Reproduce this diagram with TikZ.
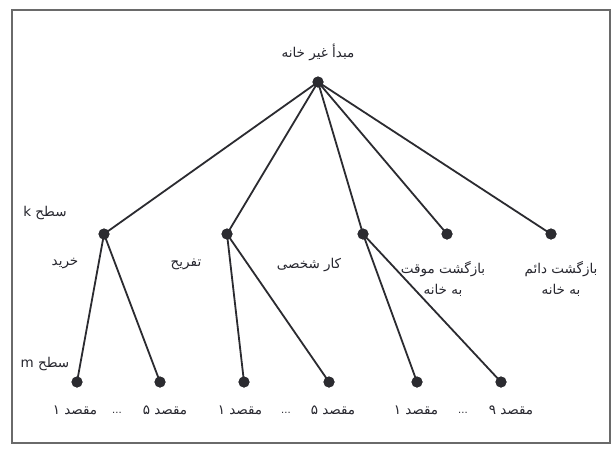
\documentclass[tikz,border=0pt]{standalone}
\usepackage{fontspec}
\TeXXeTstate=1
\newfontfamily\arabicfont[Script=Arabic]{DejaVu Sans}
\definecolor{ink}{HTML}{2B2B30}
\definecolor{txt}{HTML}{26262E}
\definecolor{framec}{HTML}{6A6A6A}
\tikzset{
  dot/.style={circle, fill=ink, inner sep=0pt, minimum size=11pt},
  edge/.style={draw=ink, line width=1.8pt},
  lbl/.style={font=\arabicfont\fontsize{13.5}{21}\selectfont, text=txt, inner sep=0pt, align=center},
}
\begin{document}
\begin{tikzpicture}[x=1pt,y=-1pt]
\useasboundingbox (0,0) rectangle (615,448);
\fill[white] (0,0) rectangle (615,448);
\draw[framec, line width=1.4pt] (12,10) rectangle (610,443);
% nodes
\node[dot] (r) at (318,82) {};
\node[dot] (a) at (104,234) {};
\node[dot] (b) at (227,234) {};
\node[dot] (c) at (363,234) {};
\node[dot] (d) at (447,234) {};
\node[dot] (e) at (551,234) {};
\node[dot] (a1) at (77,382) {};
\node[dot] (a2) at (160,382) {};
\node[dot] (b1) at (244,382) {};
\node[dot] (b2) at (329,382) {};
\node[dot] (c1) at (417,382) {};
\node[dot] (c2) at (501,382) {};
% edges
\foreach \t in {a,b,c,d,e} \draw[edge] (r.center) -- (\t.center);
\draw[edge] (a.center) -- (a1.center);
\draw[edge] (a.center) -- (a2.center);
\draw[edge] (b.center) -- (b1.center);
\draw[edge] (b.center) -- (b2.center);
\draw[edge] (c.center) -- (c1.center);
\draw[edge] (c.center) -- (c2.center);
% redraw dots on top
\foreach \t in {r,a,b,c,d,e,a1,a2,b1,b2,c1,c2} \fill[ink] (\t.center) circle (5.5pt);
% labels
\node[lbl] (lr) at (318,52) {\beginR مبدأ غیر خانه\endR};
\node[lbl] (lk) at (45,213) {\beginR سطح \beginL k\endL\endR};
\node[lbl] (lm) at (45,364) {\beginR سطح \beginL m\endL\endR};
\node[lbl] (la) at (65,264) {\beginR خرید\endR};
\node[lbl] (lb) at (186,264) {\beginR تفریح\endR};
\node[lbl] (lc) at (309,265) {\beginR کار شخصی\endR};
\node[lbl] (ld) at (443,279) {\beginR بازگشت موقت\endR\\\beginR به خانه\endR};
\node[lbl] (le) at (561,279) {\beginR بازگشت دائم\endR\\\beginR به خانه\endR};
% bottom labels
\node[lbl] (la1) at (75,410) {\beginR مقصد ۱\endR};
\node[lbl] (la2) at (165,410) {\beginR مقصد ۵\endR};
\node[lbl] (lb1) at (240,410) {\beginR مقصد ۱\endR};
\node[lbl] (lb2) at (333,410) {\beginR مقصد ۵\endR};
\node[lbl] (lc1) at (416,410) {\beginR مقصد ۱\endR};
\node[lbl] (lc2) at (511,410) {\beginR مقصد ۹\endR};
\node[lbl, font=\arabicfont\fontsize{10}{12}\selectfont] (e1) at (117,413) {...};
\node[lbl, font=\arabicfont\fontsize{10}{12}\selectfont] (e2) at (286,413) {...};
\node[lbl, font=\arabicfont\fontsize{10}{12}\selectfont] (e3) at (463,413) {...};
\end{tikzpicture}
\end{document}
